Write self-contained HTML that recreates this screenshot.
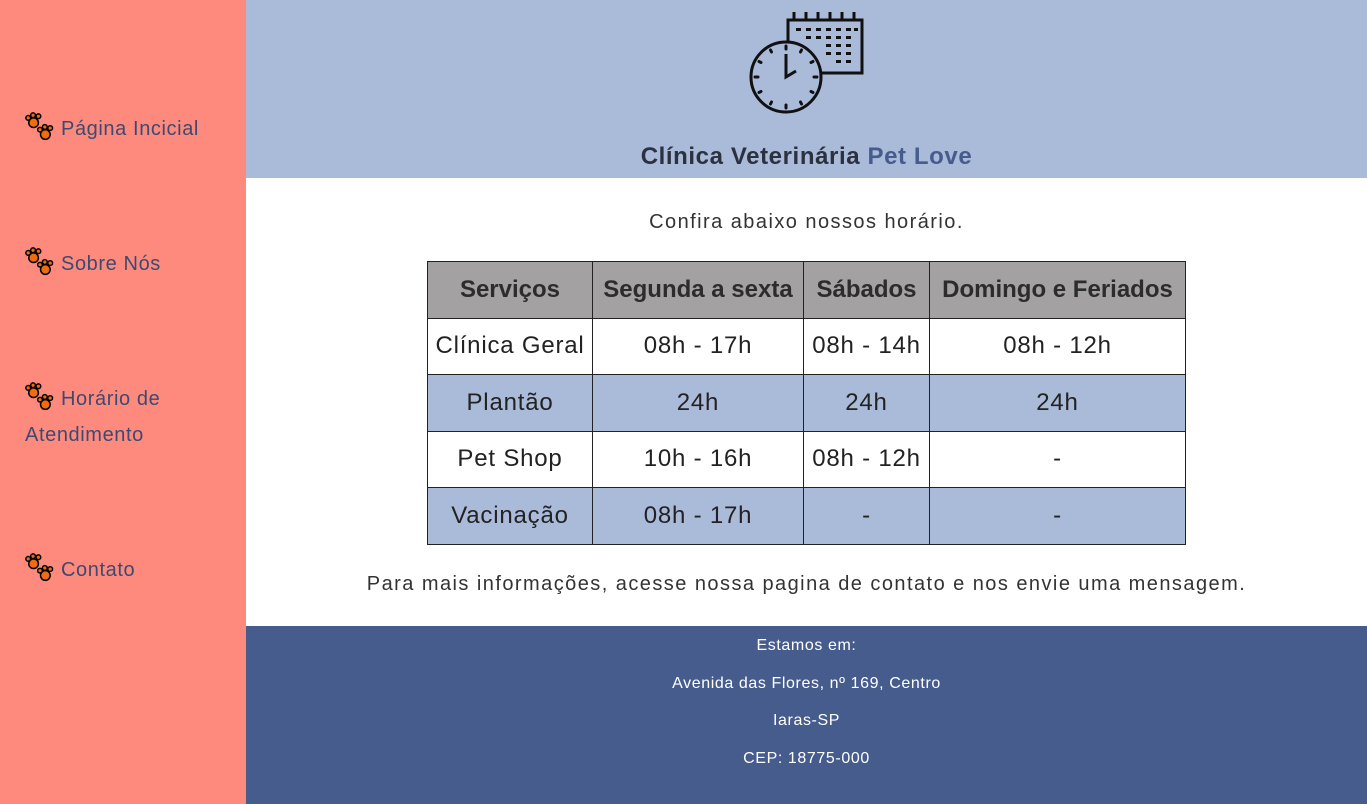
<!DOCTYPE html>
<html><head><meta charset="utf-8"><style>
*{margin:0;padding:0;box-sizing:border-box}
body{width:1367px;height:804px;position:relative;font-family:"Liberation Sans",sans-serif;overflow:hidden;background:#fff}
#side{position:absolute;left:0;top:0;width:246px;height:804px;background:#fe8a7e}
.nav{position:absolute;left:25px;font-size:20px;color:#3d4a70;line-height:36px;width:210px;letter-spacing:0.6px}
.nav svg{vertical-align:-7px;margin-right:6px}
#hdr{position:absolute;left:246px;top:0;width:1121px;height:178px;background:#aabad9}
#title{position:absolute;left:0;width:100%;top:143px;text-align:center;font-size:24px;font-weight:bold;color:#2c3140;letter-spacing:0.6px}
#title span{color:#465c8d}
.p{position:absolute;left:246px;width:1121px;text-align:center;font-size:20px;color:#333;letter-spacing:1.45px}
table{position:absolute;left:427px;top:261px;border-collapse:collapse;width:759px;font-size:24px;color:#222;letter-spacing:0.8px}
td,th{border:1px solid #222;text-align:center;height:56.5px;padding:0}
th{background:#a3a1a1;font-weight:bold;color:#2c2c2c;letter-spacing:0}
tr.b td{background:#aabad9}
#foot{position:absolute;left:246px;top:626px;width:1121px;height:178px;background:#465c8d;color:#fff;font-size:16px;text-align:center;letter-spacing:0.6px}
#foot div{position:absolute;width:100%}
</style></head><body>
<div id="side">
 <div class="nav" style="top:111px"><svg width="30" height="30" viewBox="0 0 28 28"><g fill="#f26b10" stroke="#000" stroke-width="1.4"><circle cx="8" cy="10" r="4.5"/><circle cx="3" cy="5.5" r="2.2"/><circle cx="7.5" cy="3" r="2.2"/><circle cx="12.5" cy="4" r="2.2"/><circle cx="19" cy="21" r="4.5"/><circle cx="14" cy="16.5" r="2.2"/><circle cx="18.5" cy="14" r="2.2"/><circle cx="23.5" cy="15" r="2.2"/></g></svg>Página Incicial</div>
 <div class="nav" style="top:246px"><svg width="30" height="30" viewBox="0 0 28 28"><g fill="#f26b10" stroke="#000" stroke-width="1.4"><circle cx="8" cy="10" r="4.5"/><circle cx="3" cy="5.5" r="2.2"/><circle cx="7.5" cy="3" r="2.2"/><circle cx="12.5" cy="4" r="2.2"/><circle cx="19" cy="21" r="4.5"/><circle cx="14" cy="16.5" r="2.2"/><circle cx="18.5" cy="14" r="2.2"/><circle cx="23.5" cy="15" r="2.2"/></g></svg>Sobre Nós</div>
 <div class="nav" style="top:381px"><svg width="30" height="30" viewBox="0 0 28 28"><g fill="#f26b10" stroke="#000" stroke-width="1.4"><circle cx="8" cy="10" r="4.5"/><circle cx="3" cy="5.5" r="2.2"/><circle cx="7.5" cy="3" r="2.2"/><circle cx="12.5" cy="4" r="2.2"/><circle cx="19" cy="21" r="4.5"/><circle cx="14" cy="16.5" r="2.2"/><circle cx="18.5" cy="14" r="2.2"/><circle cx="23.5" cy="15" r="2.2"/></g></svg>Horário de Atendimento</div>
 <div class="nav" style="top:552px"><svg width="30" height="30" viewBox="0 0 28 28"><g fill="#f26b10" stroke="#000" stroke-width="1.4"><circle cx="8" cy="10" r="4.5"/><circle cx="3" cy="5.5" r="2.2"/><circle cx="7.5" cy="3" r="2.2"/><circle cx="12.5" cy="4" r="2.2"/><circle cx="19" cy="21" r="4.5"/><circle cx="14" cy="16.5" r="2.2"/><circle cx="18.5" cy="14" r="2.2"/><circle cx="23.5" cy="15" r="2.2"/></g></svg>Contato</div>
</div>
<div id="hdr">
 <svg style="position:absolute;left:502px;top:10px" width="120" height="106" viewBox="0 0 120 106">
  <g fill="none" stroke="#111" stroke-width="3">
   <rect x="40" y="10" width="74" height="53"/>
   <circle cx="38" cy="67" r="35" fill="#aabad9"/>
   <path d="M38 44V67L48 61"/>
  </g>
  <g stroke="#111" stroke-width="3"><path d="M46 2V10M58 2V10M70 2V10M82 2V10M94 2V10M106 2V10"/></g>
  <g fill="#111"><rect x="48" y="18" width="5" height="3"/><rect x="58" y="18" width="5" height="3"/><rect x="68" y="18" width="5" height="3"/><rect x="78" y="18" width="5" height="3"/><rect x="88" y="18" width="5" height="3"/><rect x="98" y="18" width="5" height="3"/><rect x="106" y="18" width="4" height="3"/>
  <rect x="58" y="26" width="5" height="3"/><rect x="68" y="26" width="5" height="3"/><rect x="78" y="26" width="5" height="3"/><rect x="88" y="26" width="5" height="3"/><rect x="98" y="26" width="5" height="3"/>
  <rect x="78" y="34" width="5" height="3"/><rect x="88" y="34" width="5" height="3"/><rect x="98" y="34" width="5" height="3"/>
  <rect x="78" y="42" width="5" height="3"/><rect x="88" y="42" width="5" height="3"/><rect x="98" y="42" width="5" height="3"/>
  <rect x="88" y="50" width="5" height="3"/><rect x="98" y="50" width="5" height="3"/></g>
  <g stroke="#111" stroke-width="3" stroke-linecap="round"><path d="M38 36v3M38 95v3M7 67h3M66 67h3M53.5 40l-1 2M22.5 40l1 2M53.5 94l-1-2M22.5 94l1-2M11 51.5l2 1M65 51.5l-2 1M11 82.5l2-1M65 82.5l-2-1"/></g>
 </svg>
 <div id="title">Clínica Veterinária <span>Pet Love</span></div>
</div>
<div class="p" style="top:211px">Confira abaixo nossos horário.</div>
<table>
 <tr><th style="width:165px">Serviços</th><th style="width:211px">Segunda a sexta</th><th style="width:126px">Sábados</th><th>Domingo e Feriados</th></tr>
 <tr><td>Clínica Geral</td><td>08h - 17h</td><td>08h - 14h</td><td>08h - 12h</td></tr>
 <tr class="b"><td>Plantão</td><td>24h</td><td>24h</td><td>24h</td></tr>
 <tr><td>Pet Shop</td><td>10h - 16h</td><td>08h - 12h</td><td>-</td></tr>
 <tr class="b"><td>Vacinação</td><td>08h - 17h</td><td>-</td><td>-</td></tr>
</table>
<div class="p" style="top:573px">Para mais informações, acesse nossa pagina de contato e nos envie uma mensagem.</div>
<div id="foot">
 <div style="top:11px">Estamos em:</div>
 <div style="top:49px">Avenida das Flores, nº 169, Centro</div>
 <div style="top:86px">Iaras-SP</div>
 <div style="top:124px">CEP: 18775-000</div>
</div>
</body></html>
